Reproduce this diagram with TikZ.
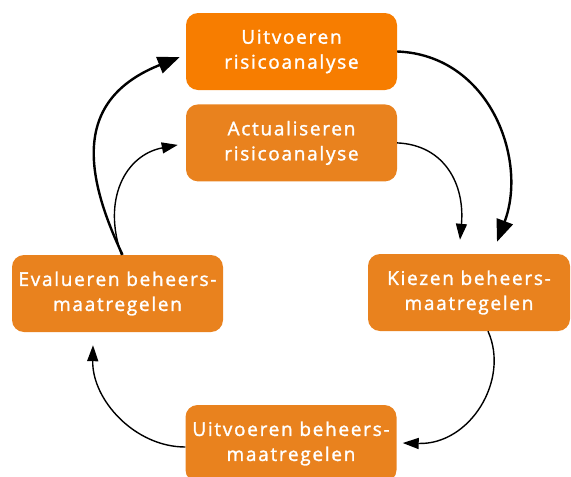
\documentclass[tikz,border=0pt]{standalone}
\usepackage{fontspec}
\setmainfont{Open Sans}[UprightFeatures={FakeBold=1.5}, LetterSpace=9]
\usetikzlibrary{arrows.meta,positioning,calc}
\definecolor{orgtop}{RGB}{247,125,0}
\definecolor{orgbox}{RGB}{233,130,30}
\tikzset{
  every node/.style={font=\fontsize{19}{25}\selectfont},
  box/.style={fill=orgbox, text=white, rounded corners=12pt, minimum width=211pt, minimum height=77pt, align=center, inner sep=2pt},
  boxtop/.style={box, fill=orgtop},
  loopbig/.style={-{Triangle[length=22pt, width=17pt]}, line width=2.4pt},
  loopthin/.style={-{Triangle[length=16pt, width=11pt]}, line width=1.4pt},
}

\begin{document}
\begin{tikzpicture}[x=1pt, y=-1pt]
\useasboundingbox (0,0) rectangle (571,477);

% ---------------------------------------------------------------- boxes
\node[boxtop] (ura) at (291.5,51.5) {Uitvoeren\\risicoanalyse};
\node[box, below=14pt of ura] (act) {Actualiseren\\risicoanalyse};
\node[box] (evb) at (117.5,293.5) {Evalueren beheers-\\maatregelen};
\node[box, minimum width=202pt] (kzb) at (469,292.5) {Kiezen beheers-\\maatregelen};
\node[box] (uib) at (291,443.5) {Uitvoeren beheers-\\maatregelen};

% ---------------------------------------------------------------- outer loop
\draw[loopbig] ($(evb.north)+(5,0)$) .. controls (85,175) and (72,100) .. ($(ura.west)+(-6,5.5)$);
\draw[loopbig] (ura.east) .. controls (490,55) and (528,160) .. ($(kzb.north)+(28,-12)$);

% ---------------------------------------------------------------- inner loop
\draw[loopthin] ($(evb.north)+(4,0)$) .. controls (102,200) and (125,155) .. ($(act.west)+(-8,2)$);
\draw[loopthin] (act.east) .. controls (445,145) and (465,185) .. ($(kzb.north)+(-9,-14)$);

% ---------------------------------------------------------------- lower half
\draw[loopthin] ($(kzb.south)+(19,0)$) .. controls (510,380) and (470,445) .. ($(uib.east)+(6,-0.5)$);
\draw[loopthin] ($(uib.west)+(0,3.5)$) .. controls (135,447) and (92,400) .. ($(evb.south)+(-24.5,13)$);

\end{tikzpicture}
\end{document}
